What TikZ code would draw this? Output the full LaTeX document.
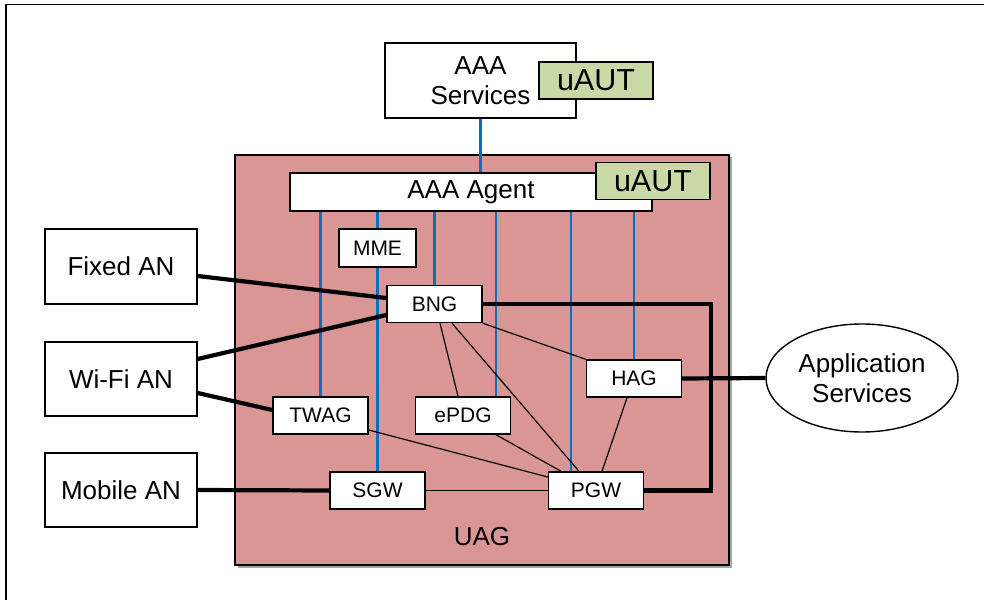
\documentclass[tikz,border=0pt]{standalone}
\usepackage{fontspec}
\setmainfont{Liberation Sans}
\usetikzlibrary{calc,shapes.geometric}

\definecolor{uagfill}{HTML}{D99694}
\definecolor{autfill}{HTML}{C9D9A5}
\definecolor{aaablue}{HTML}{0070C0}

\tikzset{
  bigbox/.style={draw=black, line width=1.4bp, fill=white, inner sep=0pt,
    font=\fontsize{26bp}{30bp}\selectfont, align=center},
  fnbox/.style={draw=black, line width=1.4bp, fill=white, inner sep=0pt,
    minimum width=95bp, minimum height=37bp, font=\fontsize{21bp}{24bp}\selectfont},
  autbox/.style={draw=black, line width=1.4bp, fill=autfill, inner sep=0pt,
    minimum width=114bp, minimum height=37bp, font=\fontsize{30.5bp}{32bp}\selectfont},
  trunk/.style={line width=4.2bp, black},
  link/.style={line width=1.2bp, black},
  aaalink/.style={line width=2.6bp, aaablue}
}

\begin{document}
\begin{tikzpicture}[x=1bp, y=-1bp]
  \useasboundingbox (0,0) rectangle (984,600);
  \clip (0,0) rectangle (984,600);
  \fill[white] (0,0) rectangle (984,600);
  % outer frame, running past the right and bottom edges
  \draw[line width=1.5bp] (6,4.5) rectangle (1000,620);

  % UAG domain with its drop shadow
  \fill[black!35] (237.5,157.5) rectangle (731.5,567.5);
  \draw[line width=1.4bp, fill=uagfill] (235,155) rectangle (729,565);
  \node[font=\fontsize{26bp}{30bp}\selectfont] (uaglabel) at (482,537) {UAG};

  % AAA services and agent
  \node[bigbox, minimum width=191bp, minimum height=75bp] (aaas) at (480.5,80.5) {AAA\\Services};
  \node[bigbox, minimum width=362bp, minimum height=38bp] (agent) at (471,192) {AAA Agent};
  \node[autbox] (aut1) at (596,80.5) {uAUT};
  \node[autbox] (aut2) at (653,181) {uAUT};

  % access networks
  \node[bigbox, minimum width=152bp, minimum height=75bp] (fixed)  at (121,266.5) {Fixed AN};
  \node[bigbox, minimum width=152bp, minimum height=74bp] (wifi)   at (121,379)   {Wi-Fi AN};
  \node[bigbox, minimum width=152bp, minimum height=74bp] (mobile) at (121,490)   {Mobile AN};

  % gateway functions
  \node[fnbox, minimum width=77bp, minimum height=38bp] (mme) at (377.5,248) {MME};
  \node[fnbox] (bng)  at (434.5,304)   {BNG};
  \node[fnbox] (hag)  at (634,378.5)   {HAG};
  \node[fnbox] (twag) at (320.5,415.5) {TWAG};
  \node[fnbox] (epdg) at (463,415.5)   {ePDG};
  \node[fnbox] (sgw)  at (377.5,490.5) {SGW};
  \node[fnbox] (pgw)  at (596,490.5)   {PGW};

  % application services
  \node[ellipse, draw=black, line width=1.4bp, fill=white, inner sep=0pt,
        minimum width=192bp, minimum height=108bp, align=center,
        font=\fontsize{26bp}{30bp}\selectfont] (app) at (862,378) {Application\\Services};

  % AAA signalling (blue)
  \draw[aaalink] (aaas.south) -- (aaas.south |- agent.north);
  \draw[aaalink] (agent.south -| twag.north) -- (twag.north);
  \draw[aaalink] (agent.south -| mme.north) -- (mme.north);
  \draw[aaalink] (mme.south) -- (sgw.north);
  \draw[aaalink] (agent.south -| bng.north) -- (bng.north);
  \draw[aaalink] (agent.south -| 496,0) -- ($(epdg.north)+(33,0)$);
  \draw[aaalink] (agent.south -| 571,0) -- ($(pgw.north)+(-25,0)$);
  \draw[aaalink] (agent.south -| hag.north) -- (hag.north);

  % internal gateway links
  \draw[link] (bng.south east) -- (hag.north west);
  \draw[link] ($(bng.south)+(5.5,0)$) -- ($(epdg.north)+(-5,0)$);
  \draw[link] ($(bng.south)+(17.5,0)$) -- ($(pgw.north)+(-17,0)$);
  \draw[link] ($(hag.south)+(-7,0)$) -- ($(pgw.north)+(6,0)$);
  \draw[link] ($(twag.east)+(0,14.5)$) -- ($(pgw.west)+(0,-13.5)$);
  \draw[link] ($(epdg.south)+(33,0)$) -- ($(pgw.north)+(-35,0)$);
  \draw[link] (sgw.east) -- (pgw.west);

  % bearer trunks (thick)
  \draw[trunk] ($(fixed.east)+(0,9.5)$) -- ($(bng.west)+(0,-6)$);
  \draw[trunk] ($(wifi.east)+(0,-20)$) -- ($(bng.west)+(0,11)$);
  \draw[trunk] ($(wifi.east)+(0,14)$) -- ($(twag.west)+(0,-5.5)$);
  \draw[trunk] (mobile.east) -- (sgw.west);
  \draw[trunk] (bng.east) -| ($(pgw.east)+(67,0)$) -- (pgw.east);
  \draw[trunk] (hag.east) -- (app.west);
\end{tikzpicture}
\end{document}
